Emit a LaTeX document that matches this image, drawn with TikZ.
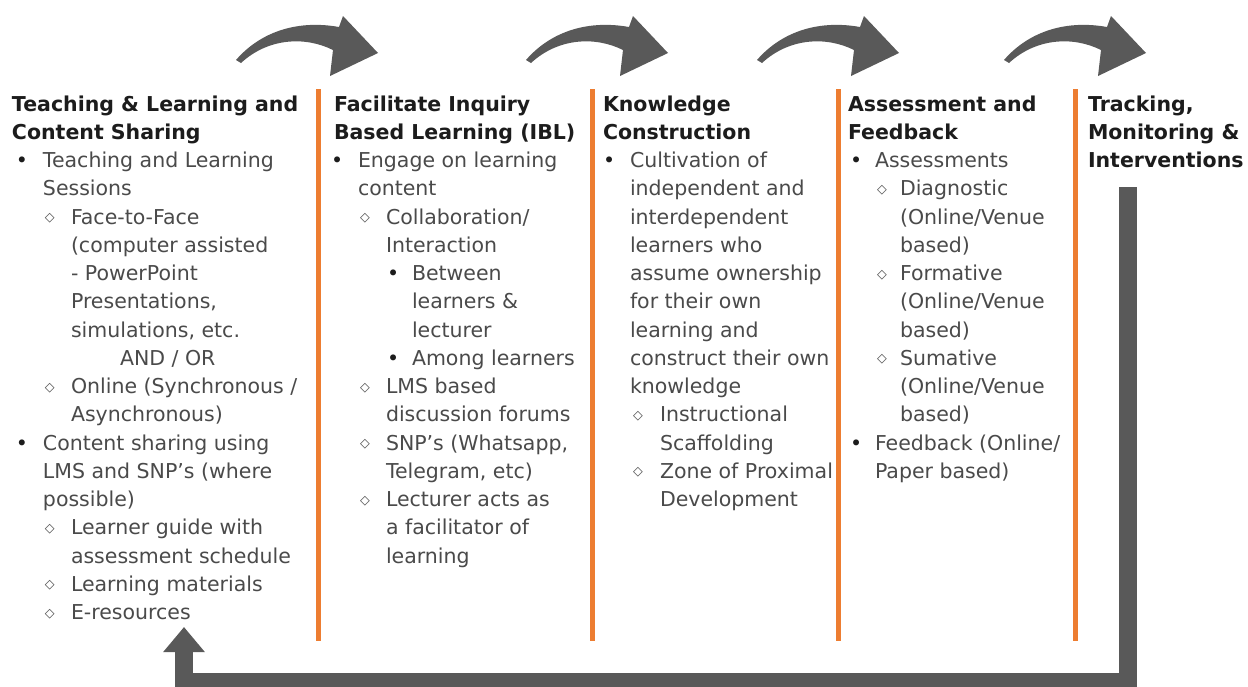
\documentclass[tikz,border=0pt]{standalone}
\usepackage{fontspec}
\setmainfont{DejaVu Sans}
\usepackage{graphicx}
\usetikzlibrary{arrows.meta}
\definecolor{orangeline}{HTML}{ED7D31}
\definecolor{arrowgray}{HTML}{595959}
\definecolor{bodytext}{HTML}{4A4A4A}
\definecolor{headtext}{HTML}{1C1C1C}
\newcommand\bulletglyph{{\color{headtext}\scalebox{1.0}{•}}}
\newcommand\diaglyph{{\color{bodytext}\bfseries\raisebox{2.5pt}{\scalebox{0.62}{◇}}}}
\newcommand\HL[2][0]{\hbox{\hspace*{#1pt}\bfseries\color{headtext}#2}}
\newcommand\TL[2]{\hbox{\hspace*{#1pt}#2}}
\newcommand\BL[3]{\hbox{\makebox[#2pt][l]{\hspace*{#1pt}\bulletglyph}#3}}
\newcommand\DL[3]{\hbox{\makebox[#2pt][l]{\hspace*{#1pt}\diaglyph}#3}}
\newcommand\colbox[1]{\vtop{\baselineskip=28.25pt\lineskiplimit=-100pt\lineskip=0pt #1}}
\begin{document}
\begin{tikzpicture}[x=1pt,y=-1pt,
  col/.style={anchor=base west,inner sep=0pt,outer sep=0pt,text=bodytext,
    font=\fontsize{20.5}{28.25}\selectfont},
  sep/.style={draw=orangeline,line width=5pt},
  curved/.style={fill=arrowgray},
  fb/.style={draw=arrowgray,line width=18pt,line join=miter,
    -{Triangle[length=25pt,width=40pt]}}]
\fill[white] (0,0) rectangle (1248,686);
\useasboundingbox (0,0) rectangle (1248,686);

% curved arrows
\foreach \dx in {0,290,521,768}{
  \begin{scope}[shift={(\dx,0)}]
  \path[curved] (236,60) .. controls (262,30) and (300,20) .. (339,27)
     -- (343,16) -- (378,53) -- (330,76) -- (333,50)
     .. controls (305,36) and (268,38) .. (241,63) -- cycle;
  \end{scope}}

% separators
\foreach \x/\n in {318/a,592/b,838/c,1075/d}{
  \coordinate (s\n top) at (\x,89);
  \coordinate (s\n bot) at (\x,641);
  \draw[sep] (s\n top) -- (s\n bot);}

% column 1
\node[col] (c1) at (12,111) {\colbox{%
\HL{Teaching \& Learning and}
\HL{Content Sharing}
\BL{4}{31}{Teaching and Learning}
\TL{31}{Sessions}
\DL{33}{59}{Face-to-Face}
\TL{59}{(computer assisted}
\TL{59}{- PowerPoint}
\TL{59}{Presentations,}
\TL{59}{simulations, etc.}
\TL{108}{AND / OR}
\DL{33}{59}{Online (Synchronous /}
\TL{59}{Asynchronous)}
\BL{4}{31}{Content sharing using}
\TL{31}{LMS and SNP’s (where}
\TL{31}{possible)}
\DL{33}{59}{Learner guide with}
\TL{59}{assessment schedule}
\DL{33}{59}{Learning materials}
\DL{33}{59}{E-resources}}};

% column 2
\node[col] (c2) at (331,111) {\colbox{%
\HL[3]{Facilitate Inquiry}
\HL[3]{Based Learning (IBL)}
\BL{0}{27}{Engage on learning}
\TL{27}{content}
\DL{29}{55}{Collaboration/}
\TL{55}{Interaction}
\BL{56}{81}{Between}
\TL{81}{learners \&}
\TL{81}{lecturer}
\BL{56}{81}{Among learners}
\DL{29}{55}{LMS based}
\TL{55}{discussion forums}
\DL{29}{55}{SNP’s (Whatsapp,}
\TL{55}{Telegram, etc)}
\DL{29}{55}{Lecturer acts as}
\TL{55}{a facilitator of}
\TL{55}{learning}}};

% column 3
\node[col] (c3) at (603,111) {\colbox{%
\HL{Knowledge}
\HL{Construction}
\BL{0}{27}{Cultivation of}
\TL{27}{independent and}
\TL{27}{interdependent}
\TL{27}{learners who}
\TL{27}{assume ownership}
\TL{27}{for their own}
\TL{27}{learning and}
\TL{27}{construct their own}
\TL{27}{knowledge}
\DL{30}{57}{Instructional}
\TL{57}{Scaffolding}
\DL{30}{57}{Zone of Proximal}
\TL{57}{Development}}};

% column 4
\node[col] (c4) at (848,111) {\colbox{%
\HL{Assessment and}
\HL{Feedback}
\BL{2}{27}{Assessments}
\DL{29}{52}{Diagnostic}
\TL{52}{(Online/Venue}
\TL{52}{based)}
\DL{29}{52}{Formative}
\TL{52}{(Online/Venue}
\TL{52}{based)}
\DL{29}{52}{Sumative}
\TL{52}{(Online/Venue}
\TL{52}{based)}
\BL{2}{27}{Feedback (Online/}
\TL{27}{Paper based)}}};

% column 5
\node[col] (c5) at (1088,111) {\colbox{%
\HL{Tracking,}
\HL{Monitoring \&}
\HL{Interventions}}};

% feedback loop
\coordinate (fbstart) at (1127.5,187);
\coordinate (fbright) at (1127.5,682);
\coordinate (fbleft) at (184,682);
\coordinate (fbend) at (184,627);
\draw[fb] (fbstart) -- (fbright) -- (fbleft) -- (fbend);
\end{tikzpicture}
\end{document}
